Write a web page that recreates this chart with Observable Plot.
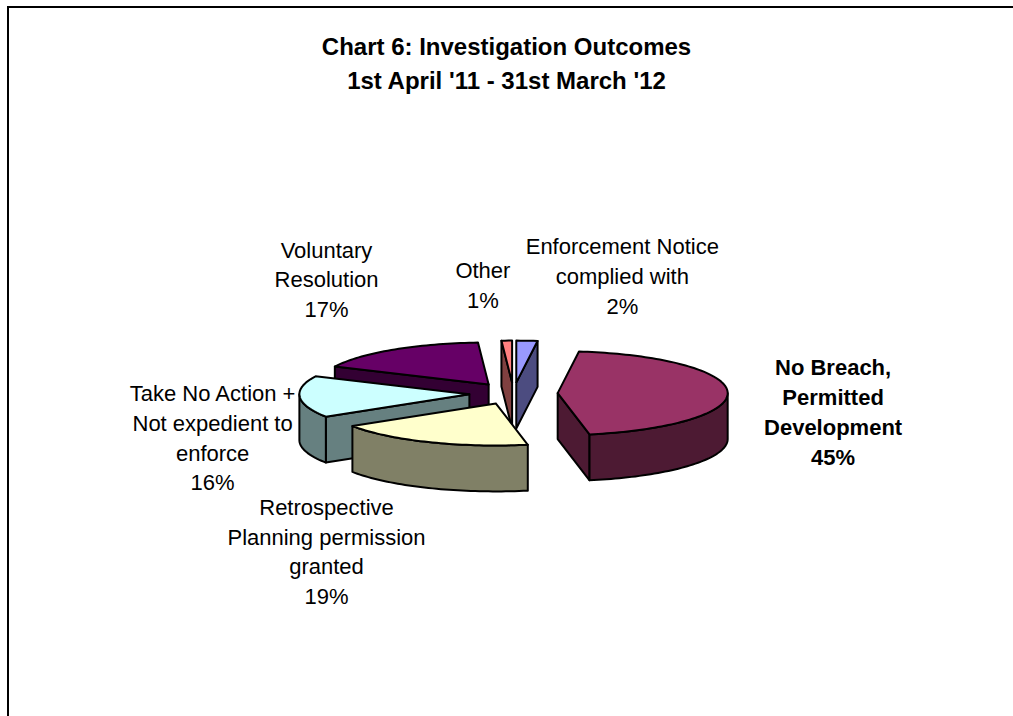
<!DOCTYPE html>
<html>
<head>
<meta charset="utf-8">
<script src="https://cdn.jsdelivr.net/npm/d3@7"></script>
<script src="https://cdn.jsdelivr.net/npm/@observablehq/plot@0.6"></script>
<style>
  html, body { margin: 0; padding: 0; background: #fff; overflow: hidden; }
  #frame { position: absolute; left: 7px; top: 6px; width: 1200px; height: 900px;
           border-left: 2px solid #000; border-top: 2px solid #000; }
  #title { position: absolute; left: 0; top: 30px; width: 1013px; text-align: center;
           font: bold 24px "Liberation Sans", Arial, sans-serif; line-height: 34px; color: #000; }
  #chart { position: absolute; left: 0; top: 100px; }
</style>
</head>
<body>
<div id="frame"></div>
<div id="title">Chart 6: Investigation Outcomes<br>1st April '11 - 31st March '12</div>
<div id="chart"></div>
<script>
// ---- data ----
const categories = [
  "Enforcement Notice complied with",
  "No Breach, Permitted Development",
  "Retrospective Planning permission granted",
  "Take No Action + Not expedient to enforce",
  "Voluntary Resolution",
  "Other"
];
const shares = [2, 45, 19, 16, 17, 1];
const labelLines = [
  ["Enforcement Notice", "complied with"],
  ["No Breach,", "Permitted", "Development"],
  ["Retrospective", "Planning permission", "granted"],
  ["Take No Action +", "Not expedient to", "enforce"],
  ["Voluntary", "Resolution"],
  ["Other"]
];
const topColors  = ["#9999FF", "#993366", "#FFFFCC", "#CCFFFF", "#660066", "#FF8080"];
const sideColors = ["#4C4C80", "#4D1A33", "#808066", "#668080", "#330033", "#804040"];

// ---- layout (chart units: 1 = pie radius) ----
const W = 1013, H = 616, UNIT = 170, CX = 513, CY = 293;
const TILT = 0.247, DEPTH = 0.27, EXPLODE = 0.26, STEP = Math.PI / 120;
const labelAnchors = [[0.64, -0.70], [1.88, 0.10], [-1.10, 0.92], [-1.77, 0.25], [-1.10, -0.68], [-0.18, -0.645]];

// ---- geometry from values ----
const arcs = d3.pie().sort(null).value(d => d)(shares);
const mid = a => (a.startAngle + a.endAngle) / 2;
function pt(o, th, z) { return [o[0] + Math.sin(th), o[1] - TILT * Math.cos(th) + z]; }
function arcPts(o, a, b, z) {
  const n = Math.max(2, Math.ceil((b - a) / STEP));
  return d3.range(n + 1).map(i => pt(o, a + (b - a) * i / n, z));
}
const rows = [];
let pid = 0;
function addPoly(pts, fill) {
  const k = pid++;
  for (const [x, y] of pts) rows.push({k, x, y, fill});
  rows.push({k, x: pts[0][0], y: pts[0][1], fill});
}
const order = arcs.map((a, i) => i).sort((i, j) => (-Math.cos(mid(arcs[i]))) - (-Math.cos(mid(arcs[j]))));
for (const i of order) {
  const a0 = arcs[i].startAngle, a1 = arcs[i].endAngle, m = mid(arcs[i]);
  const o = [EXPLODE * Math.sin(m), -EXPLODE * TILT * Math.cos(m)];
  const apT = [o[0], o[1]], apB = [o[0], o[1] + DEPTH];
  if (Math.sin(a0) < -1e-9) addPoly([apT, pt(o, a0, 0), pt(o, a0, DEPTH), apB], sideColors[i]);
  if (Math.sin(a1) > 1e-9) addPoly([apT, pt(o, a1, 0), pt(o, a1, DEPTH), apB], sideColors[i]);
  const s = Math.max(a0, Math.PI / 2), e = Math.min(a1, 3 * Math.PI / 2);
  if (e > s) addPoly([...arcPts(o, s, e, 0), ...arcPts(o, s, e, DEPTH).reverse()], sideColors[i]);
  addPoly([apT, ...arcPts(o, a0, a1, 0)], topColors[i]);
}

const labels = categories.map((c, i) => ({
  x: labelAnchors[i][0], y: labelAnchors[i][1],
  text: [...labelLines[i], `${shares[i]}%`].join("\n"),
  big: shares[i] === d3.max(shares)
}));

const chart = Plot.plot({
  width: W, height: H, margin: 0,
  x: {domain: [-CX / UNIT, (W - CX) / UNIT], range: [0, W], axis: null},
  y: {domain: [-CY / UNIT, (H - CY) / UNIT], range: [0, H], axis: null},
  color: {type: "identity"},
  style: {fontFamily: "'Liberation Sans', Arial, sans-serif", background: "transparent"},
  marks: [
    Plot.line(rows, {x: "x", y: "y", z: "k", fill: "fill", stroke: "#000", strokeWidth: 2,
                     strokeLinejoin: "round", curve: "linear"}),
    Plot.text(labels.filter(d => !d.big), {x: "x", y: "y", text: "text", fontSize: 22,
                     lineHeight: 1.36, fill: "#000", textAnchor: "middle"}),
    Plot.text(labels.filter(d => d.big), {x: "x", y: "y", text: "text", fontSize: 22, fontWeight: "bold",
                     lineHeight: 1.36, fill: "#000", textAnchor: "middle"})
  ]
});
document.getElementById("chart").appendChild(chart);
</script>
</body>
</html>
